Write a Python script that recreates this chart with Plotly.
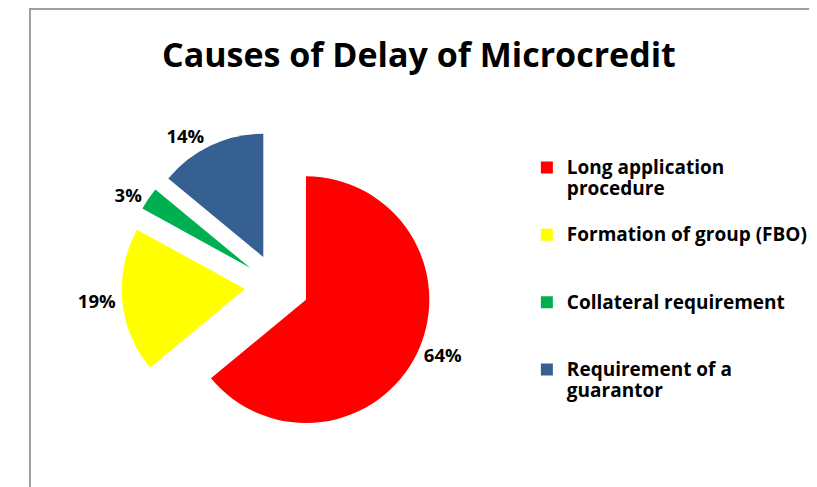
import plotly.graph_objects as go

# data
causes = [
    "Long application<br>procedure<br> ",
    "Formation of group (FBO)<br> <br> ",
    "Collateral requirement<br> <br> ",
    "Requirement of a<br>guarantor",
]
shares = [64, 19, 3, 14]
colors = ["#FF0000", "#FFFF00", "#00B050", "#376092"]

W, H = 817, 487


def big(txt):
    # larger glyphs, the legend spacing still follows the legend font size
    return "<br>".join(
        '<span style="font-size:19px">%s</span>' % part if part.strip() else part
        for part in txt.split("<br>")
    )


fig = go.Figure()

fig.add_trace(
    go.Pie(
        labels=[big(c) for c in causes],
        values=shares,
        sort=False,
        direction="clockwise",
        rotation=0,
        pull=[0.26] * len(shares),
        marker=dict(colors=colors, line=dict(width=0)),
        texttemplate="%{percent:.0%}",
        textposition="outside",
        outsidetextfont=dict(family="Open Sans", size=18.5, color="#000000", weight="bold"),
        domain=dict(x=[95 / W, 414 / W], y=[1 - 441 / H, 1 - 122 / H]),
        hoverinfo="label+percent",
    )
)

fig.update_layout(
    width=W,
    height=H,
    margin=dict(l=0, r=0, t=0, b=0),
    paper_bgcolor="white",
    title=dict(
        text="Causes of Delay of Microcredit",
        x=0.503,
        xanchor="center",
        y=1 - 47 / H,
        yanchor="middle",
        font=dict(family="Open Sans", size=34, color="#000000", weight="bold"),
    ),
    legend=dict(
        x=511 / W,
        xanchor="left",
        y=1 - 144 / H,
        yanchor="top",
        valign="top",
        font=dict(family="Open Sans", size=16.5, color="#000000", weight="bold"),
        bgcolor="rgba(0,0,0,0)",
    ),
    shapes=[
        dict(
            type="rect",
            xref="paper",
            yref="paper",
            x0=1 / W,
            x1=1.02,
            y0=-0.02,
            y1=1 - 1 / H,
            line=dict(color="#A0A0A0", width=2),
            fillcolor="rgba(0,0,0,0)",
            layer="below",
        )
    ],
)

fig.write_html("out.html")
